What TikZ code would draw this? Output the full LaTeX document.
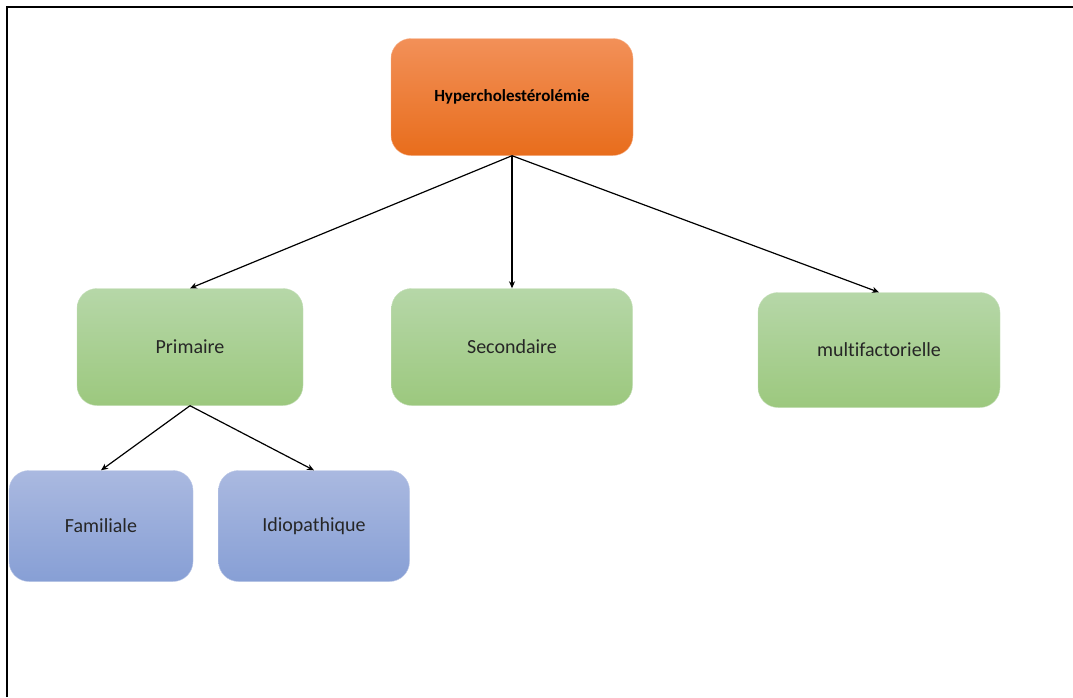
\documentclass[tikz,border=0pt]{standalone}
\usepackage{fontspec}
\setmainfont[Ligatures=NoCommon]{Carlito}
\usepackage{xcolor}
\usepackage{tikz}
\usetikzlibrary{arrows.meta}

\definecolor{orangetop}{HTML}{F29058}
\definecolor{orangebot}{HTML}{E86D1C}
\definecolor{greentop}{HTML}{B6D7A8}
\definecolor{greenbot}{HTML}{9CC87E}
\definecolor{bluetop}{HTML}{AAB9E0}
\definecolor{bluebot}{HTML}{879FD5}
\definecolor{labeltext}{HTML}{262626}

\tikzset{
    box/.style={rounded corners=20pt, inner sep=0pt, text=labeltext,
                font=\fontsize{20}{22}\selectfont},
    rootbox/.style={box, draw=orangetop!70, top color=orangetop, bottom color=orangebot,
                    minimum width=242pt, minimum height=117pt, text=black,
                    font=\bfseries\fontsize{17}{19}\selectfont},
    typebox/.style={box, draw=greentop!80, top color=greentop, bottom color=greenbot},
    subbox/.style={box, draw=bluetop!80, top color=bluetop, bottom color=bluebot},
    link/.style={-{Stealth[length=7pt,width=6pt]}, line width=1.2pt}
}

\begin{document}
\begin{tikzpicture}[x=1pt, y=-1pt]
    \useasboundingbox (0,0) rectangle (1073,697);
    \draw[line width=2pt] (7,697) -- (7,7) -- (1073,7);

    \node[rootbox] (hyper) at (512,97) {Hypercholestérolémie};

    \node[typebox, minimum width=226pt, minimum height=117pt] (prim) at (190,347) {Primaire};
    \node[typebox, minimum width=241pt, minimum height=117pt] (sec) at (512,347) {Secondaire};
    \node[typebox, minimum width=242pt, minimum height=115pt] (multi) at (879,350) {multifactorielle};

    \node[subbox, minimum width=184pt, minimum height=111pt] (fam) at (101,526) {Familiale};
    \node[subbox, minimum width=191pt, minimum height=111pt] (idio) at (314,526) {Idiopathique};

    \draw[link] (hyper.south) -- (prim.north);
    \draw[link] (hyper.south) -- (sec.north);
    \draw[link] (hyper.south) -- (multi.north);
    \draw[link] (prim.south) -- (fam.north);
    \draw[link] (prim.south) -- (idio.north);
\end{tikzpicture}
\end{document}
